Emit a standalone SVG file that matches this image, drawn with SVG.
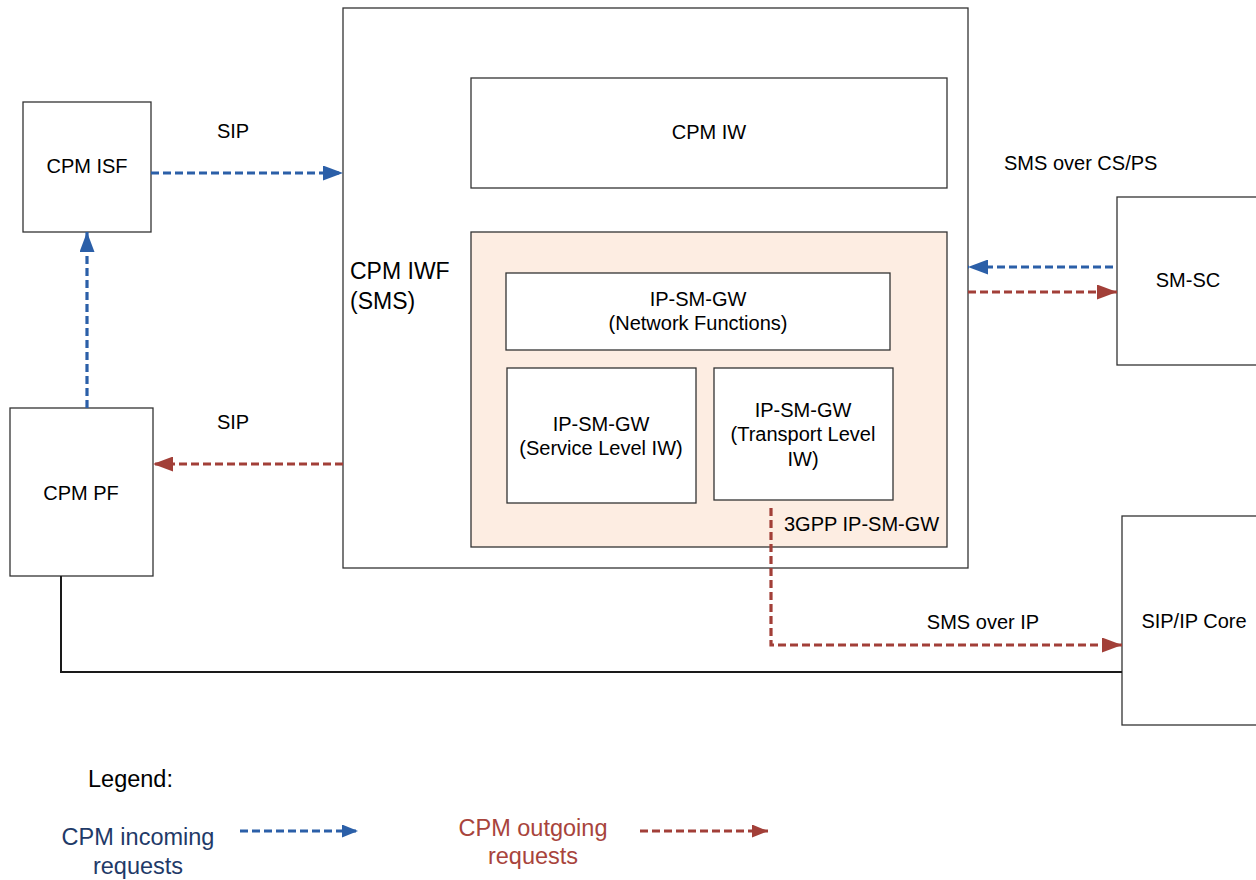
<svg xmlns="http://www.w3.org/2000/svg" width="1256" height="880" viewBox="0 0 1256 880">
<style>
text{font-family:"Liberation Sans",Arial,sans-serif;fill:#000}
.box{fill:#fff;stroke:#333;stroke-width:1.3}
.t{font-size:20px}
.c{text-anchor:middle}
.big{font-size:23px}
.lg{font-size:23.5px}
.blue{fill:none;stroke:#2b5fa8;stroke-width:3.2;stroke-dasharray:8,4}
.red{fill:none;stroke:#a23f38;stroke-width:3.2;stroke-dasharray:8,4}
.solid{fill:none;stroke:#1a1a1a;stroke-width:2}
</style>
<defs>
<marker id="ab" viewBox="0 0 20 15" refX="20" refY="7.5" markerWidth="20" markerHeight="15" markerUnits="userSpaceOnUse" orient="auto"><path d="M0,0 L20,7.5 L0,15 Z" fill="#2b5fa8"/></marker>
<marker id="ar" viewBox="0 0 20 15" refX="20" refY="7.5" markerWidth="20" markerHeight="15" markerUnits="userSpaceOnUse" orient="auto"><path d="M0,0 L20,7.5 L0,15 Z" fill="#a23f38"/></marker>
<marker id="lb" viewBox="0 0 16 13" refX="16" refY="6.5" markerWidth="16" markerHeight="13" markerUnits="userSpaceOnUse" orient="auto"><path d="M0,0 L16,6.5 L0,13 Z" fill="#2b5fa8"/></marker>
<marker id="lr" viewBox="0 0 16 13" refX="16" refY="6.5" markerWidth="16" markerHeight="13" markerUnits="userSpaceOnUse" orient="auto"><path d="M0,0 L16,6.5 L0,13 Z" fill="#a23f38"/></marker>
</defs>
<rect width="1256" height="880" fill="#fff"/>

<g id="iwf">
<rect class="box" x="343" y="8" width="625" height="560"/>
<text class="big" x="350" y="279">CPM IWF</text>
<text class="big" x="350" y="309">(SMS)</text>
</g>
<g id="cpm-iw">
<rect class="box" x="471" y="78" width="476" height="110"/>
<text class="t c" x="709" y="139">CPM IW</text>
</g>
<g id="ipsmgw">
<rect x="471" y="232" width="476" height="315" fill="#fdede2" stroke="#333" stroke-width="1.3"/>
<text class="t" x="784" y="531">3GPP IP-SM-GW</text>
</g>
<g id="netfn">
<rect class="box" x="506" y="273" width="384" height="77"/>
<text class="t c" x="698" y="306">IP-SM-GW</text>
<text class="t c" x="698" y="330">(Network Functions)</text>
</g>
<g id="service">
<rect class="box" x="507" y="368" width="189" height="135"/>
<text class="t c" x="601" y="431">IP-SM-GW</text>
<text class="t c" x="601" y="455">(Service Level IW)</text>
</g>
<g id="transport">
<rect class="box" x="714" y="368" width="179" height="132"/>
<text class="t c" x="803" y="417">IP-SM-GW</text>
<text class="t c" x="803" y="441">(Transport Level</text>
<text class="t c" x="803" y="466">IW)</text>
</g>
<g id="isf">
<rect class="box" x="23" y="102" width="128" height="130"/>
<text class="t c" x="87" y="173">CPM ISF</text>
</g>
<g id="pf">
<rect class="box" x="10" y="408" width="143" height="168"/>
<text class="t c" x="81" y="500">CPM PF</text>
</g>
<g id="smsc">
<rect class="box" x="1117" y="197" width="160" height="168"/>
<text class="t c" x="1188" y="287">SM-SC</text>
</g>
<g id="core">
<rect class="box" x="1122" y="516" width="160" height="209"/>
<text class="t c" x="1194" y="628">SIP/IP Core</text>
</g>

<g id="connectors">
<path class="blue" d="M151,173 H343" marker-end="url(#ab)"/>
<path class="blue" d="M87,408 V232" marker-end="url(#ab)"/>
<path class="red" d="M343,464 H153" marker-end="url(#ar)"/>
<path class="blue" d="M1113,267 H968" marker-end="url(#ab)"/>
<path class="red" d="M968,292 H1117" marker-end="url(#ar)"/>
<path class="red" d="M771,508 V645 H1122" marker-end="url(#ar)"/>
<path class="solid" d="M61,576 V672 H1122"/>
<text class="t c" x="233" y="138">SIP</text>
<text class="t c" x="233" y="429">SIP</text>
<text class="t" x="1004" y="170">SMS over CS/PS</text>
<text class="t c" x="983" y="629">SMS over IP</text>
</g>

<g id="legend">
<text class="lg" x="88" y="787">Legend:</text>
<text class="lg c" x="138" y="845" style="fill:#1f3a68">CPM incoming</text>
<text class="lg c" x="138" y="874" style="fill:#1f3a68">requests</text>
<path class="blue" d="M240,831 H358" marker-end="url(#lb)"/>
<text class="lg c" x="533" y="836" style="fill:#a8443c">CPM outgoing</text>
<text class="lg c" x="533" y="864" style="fill:#a8443c">requests</text>
<path class="red" d="M640,831 H768" marker-end="url(#lr)"/>
</g>
</svg>
